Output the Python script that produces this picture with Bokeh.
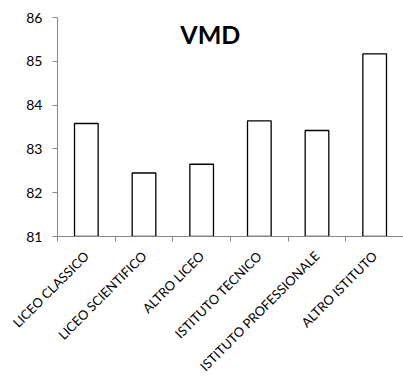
import math
from bokeh.plotting import figure
from bokeh.models import Range1d, FixedTicker, Label
from bokeh.embed import file_html
from bokeh.resources import INLINE

categories = ["LICEO CLASSICO", "LICEO SCIENTIFICO", "ALTRO LICEO",
              "ISTITUTO TECNICO", "ISTITUTO PROFESSIONALE", "ALTRO ISTITUTO"]
values = [83.58, 82.45, 82.65, 83.64, 83.42, 85.17]
y_ticks = [81, 82, 83, 84, 85, 86]
title_text = "VMD"

FONT = "Lato"
AXIS_GREY = "#878787"

n = len(categories)
xs = list(range(n))

p = figure(width=403, height=382, output_backend="svg", toolbar_location=None,
           x_range=Range1d(-0.5, n - 0.5), y_range=Range1d(y_ticks[0], y_ticks[-1]),
           min_border_left=57, min_border_right=0, min_border_top=17,
           min_border_bottom=145)
p.outline_line_color = None
p.xgrid.grid_line_color = None
p.ygrid.grid_line_color = None
p.background_fill_color = "white"
p.border_fill_color = "white"

p.vbar(x=xs, top=values, bottom=y_ticks[0], width=0.41,
       fill_color="white", line_color="black", line_width=1.3)

# x axis: labels at centres, ticks at category boundaries
xa = p.xaxis[0]
xa.ticker = FixedTicker(ticks=xs, minor_ticks=[i - 0.5 for i in range(n + 1)])
xa.major_label_overrides = {i: c for i, c in enumerate(categories)}
xa.major_label_orientation = math.pi / 4
xa.major_tick_line_color = None
xa.major_tick_in = 0
xa.major_tick_out = 6
xa.minor_tick_line_color = AXIS_GREY
xa.minor_tick_in = 0
xa.minor_tick_out = 5
xa.axis_line_color = AXIS_GREY
xa.major_label_text_font = FONT
xa.major_label_text_font_size = "13px"
xa.major_label_text_color = "black"
xa.major_label_standoff = 11

ya = p.yaxis[0]
ya.ticker = FixedTicker(ticks=y_ticks, minor_ticks=[])
ya.axis_line_color = AXIS_GREY
ya.major_tick_line_color = AXIS_GREY
ya.major_tick_in = 0
ya.major_tick_out = 5
ya.minor_tick_line_color = None
ya.major_label_text_font = FONT
ya.major_label_text_font_size = "14px"
ya.major_label_text_color = "black"
ya.major_label_standoff = 10

p.add_layout(Label(x=2.15, y=85.62, text=title_text, text_align="center",
                   text_baseline="middle", text_font=FONT,
                   text_font_style="bold", text_font_size="25px",
                   text_color="black"))

open("out.html", "w").write(file_html(p, INLINE))
